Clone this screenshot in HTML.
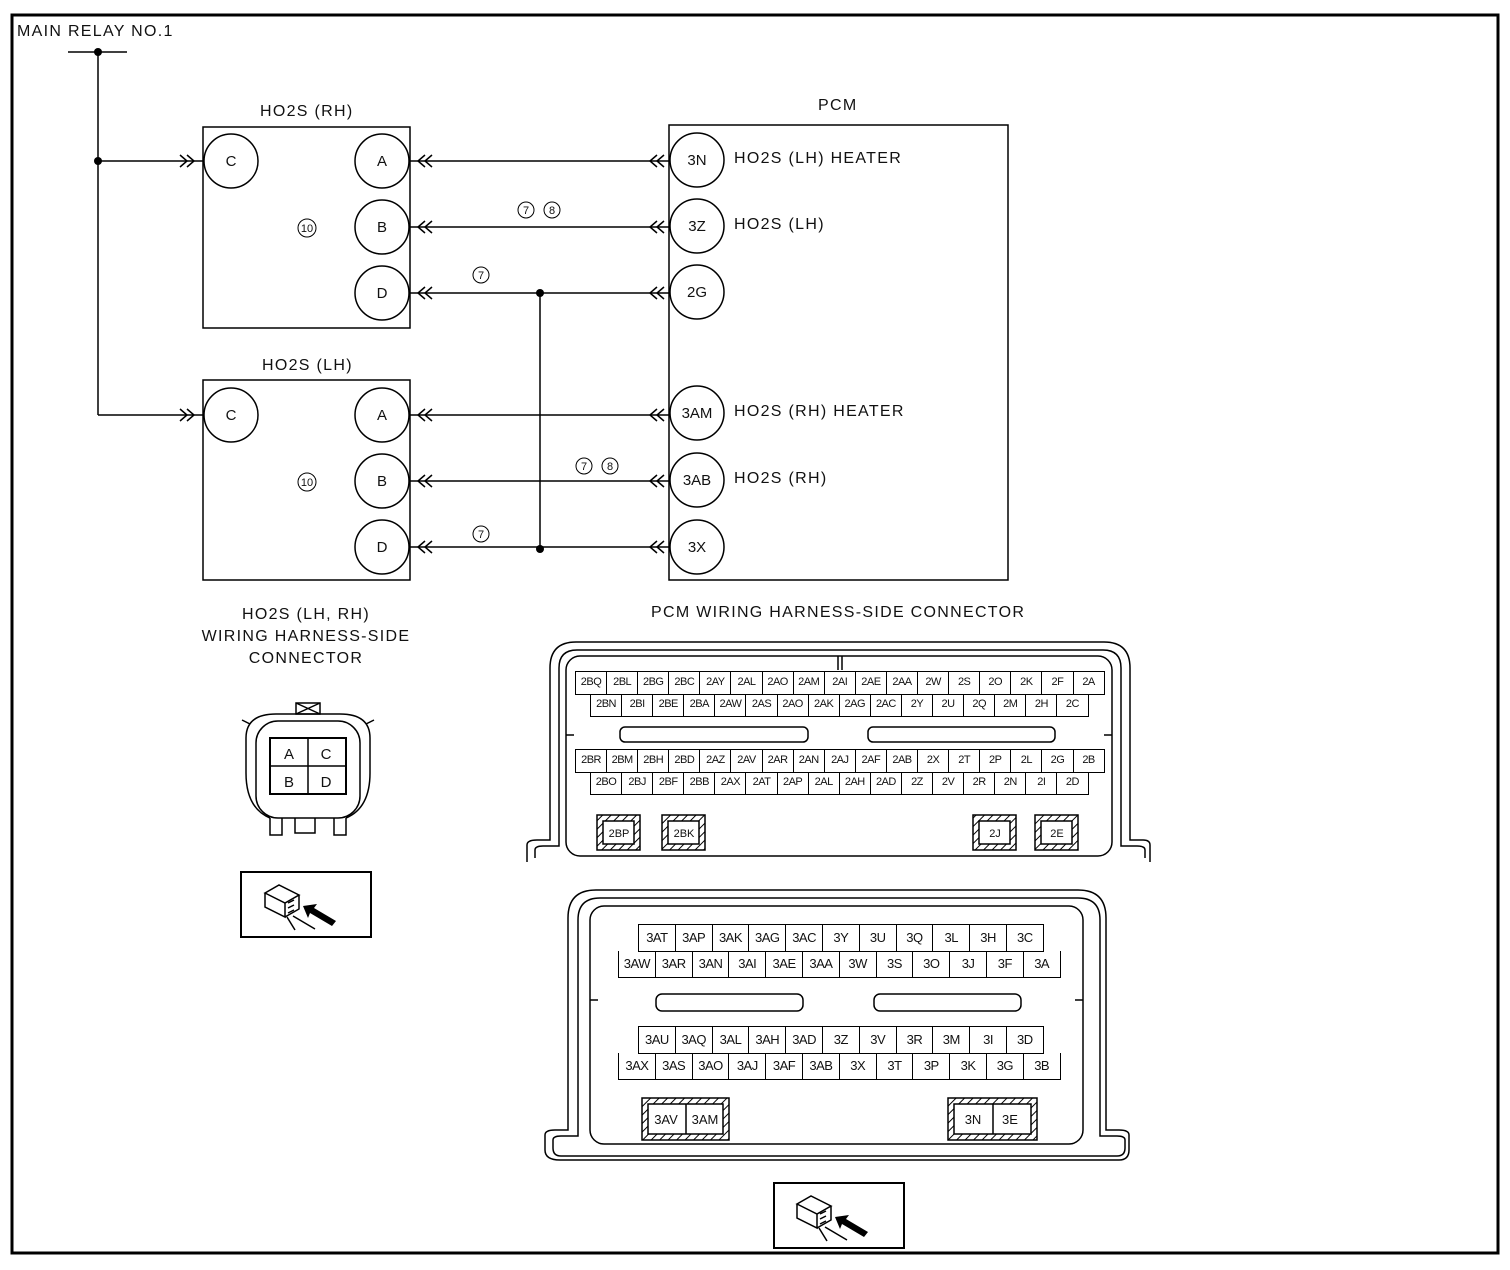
<!DOCTYPE html>
<html><head><meta charset="utf-8"><style>
body{margin:0;background:#fff;}
#w{position:relative;width:1510px;height:1270px;overflow:hidden;font-family:"Liberation Sans",sans-serif;}
svg{position:absolute;left:0;top:0;}
.row{position:absolute;display:flex;border-left:1px solid #000;border-top:1px solid #000;border-bottom:1px solid #000;}
.row div{box-sizing:border-box;border-right:1px solid #000;text-align:center;font-size:11px;color:#111;letter-spacing:-0.5px;overflow:hidden;white-space:nowrap;}
.t div{width:31.1px;height:22px;line-height:21px;}
.b div{width:36.8px;height:26px;line-height:25px;font-size:13px;}
.lb{position:absolute;font-size:16px;letter-spacing:1.3px;color:#111;white-space:nowrap;}
</style></head><body><div id="w">
<svg width="1510" height="1270" viewBox="0 0 1510 1270">
<defs>
<pattern id="h" width="6" height="6" patternUnits="userSpaceOnUse" patternTransform="rotate(45)"><rect width="6" height="6" fill="#fff"/><line x1="0" y1="0" x2="0" y2="6" stroke="#000" stroke-width="2"/></pattern>
</defs>
<rect x="12" y="15" width="1486" height="1238" fill="none" stroke="#000" stroke-width="3"/>
<g stroke="#000" stroke-width="1.5" fill="none">
<line x1="68" y1="52" x2="127" y2="52"/>
<line x1="98" y1="52" x2="98" y2="415"/>
<line x1="98" y1="161" x2="203" y2="161"/>
<line x1="98" y1="415" x2="203" y2="415"/>
<rect x="203" y="127" width="207" height="201"/>
<rect x="203" y="380" width="207" height="200"/>
<rect x="669" y="125" width="339" height="455"/>
<circle cx="231" cy="161" r="27"/><circle cx="382" cy="161" r="27"/><circle cx="382" cy="227" r="27"/><circle cx="382" cy="293" r="27"/>
<circle cx="231" cy="415" r="27"/><circle cx="382" cy="415" r="27"/><circle cx="382" cy="481" r="27"/><circle cx="382" cy="547" r="27"/>
<circle cx="697" cy="160" r="27"/><circle cx="697" cy="226" r="27"/><circle cx="697" cy="292" r="27"/><circle cx="697" cy="413" r="27"/><circle cx="697" cy="480" r="27"/><circle cx="697" cy="547" r="27"/>
<line x1="410" y1="161" x2="669" y2="161"/><line x1="410" y1="227" x2="669" y2="227"/><line x1="410" y1="293" x2="669" y2="293"/>
<line x1="410" y1="415" x2="669" y2="415"/><line x1="410" y1="481" x2="669" y2="481"/><line x1="410" y1="547" x2="669" y2="547"/>
<line x1="540" y1="293" x2="540" y2="549"/>
<path d="M180 155l7 6-7 6M187 155l7 6-7 6"/><path d="M180 409l7 6-7 6M187 409l7 6-7 6"/>
<path d="M425 155l-7 6 7 6M432 155l-7 6 7 6M425 221l-7 6 7 6M432 221l-7 6 7 6M425 287l-7 6 7 6M432 287l-7 6 7 6"/>
<path d="M425 409l-7 6 7 6M432 409l-7 6 7 6M425 475l-7 6 7 6M432 475l-7 6 7 6M425 541l-7 6 7 6M432 541l-7 6 7 6"/>
<path d="M657 155l-7 6 7 6M664 155l-7 6 7 6M657 221l-7 6 7 6M664 221l-7 6 7 6M657 287l-7 6 7 6M664 287l-7 6 7 6"/>
<path d="M657 409l-7 6 7 6M664 409l-7 6 7 6M657 475l-7 6 7 6M664 475l-7 6 7 6M657 541l-7 6 7 6M664 541l-7 6 7 6"/>
<circle cx="526" cy="210" r="8" stroke-width="1"/><circle cx="552" cy="210" r="8" stroke-width="1"/>
<circle cx="481" cy="275" r="8" stroke-width="1"/>
<circle cx="584" cy="466" r="8" stroke-width="1"/><circle cx="610" cy="466" r="8" stroke-width="1"/>
<circle cx="481" cy="534" r="8" stroke-width="1"/>
<circle cx="307" cy="228" r="9" stroke-width="1"/><circle cx="307" cy="482" r="9" stroke-width="1"/>
<path d="M527 862V845q0-5 10-5h13V668q0-26 26-26h528q26 0 26 26v172h13q7 0 7 5v17" stroke-width="1.5"/>
<path d="M535 858V850q0-4 8-4h16V668q0-18 18-18h526q18 0 18 18v178h16q8 0 8 4v8"/>
<rect x="566" y="656" width="546" height="200" rx="14"/>
<line x1="838" y1="656" x2="838" y2="670"/><line x1="842" y1="656" x2="842" y2="670"/>
<rect x="620" y="727" width="188" height="15" rx="5"/><rect x="868" y="727" width="187" height="15" rx="5"/>
<path d="M566 735h8M1104 735h8"/>
<rect x="597" y="815" width="43" height="35" fill="url(#h)"/><rect x="603" y="821" width="31" height="23" fill="#fff"/>
<rect x="662" y="815" width="43" height="35" fill="url(#h)"/><rect x="668" y="821" width="31" height="23" fill="#fff"/>
<rect x="973" y="815" width="43" height="35" fill="url(#h)"/><rect x="979" y="821" width="31" height="23" fill="#fff"/>
<rect x="1035" y="815" width="43" height="35" fill="url(#h)"/><rect x="1041" y="821" width="31" height="23" fill="#fff"/>
<path d="M545 1150V1135q0-5 10-5h13V918q0-28 28-28h482q28 0 28 28v212h13q10 0 10 5v15q0 10-10 10H560q-15 0-15-10z" stroke-width="1.5"/>
<path d="M553 1148V1140q0-4 8-4h17V920q0-22 22-22h478q22 0 22 22v216h17q8 0 8 4v8q0 8-8 8H561q-8 0-8-8z"/>
<rect x="590" y="906" width="493" height="238" rx="14"/>
<rect x="656" y="994" width="147" height="17" rx="6"/><rect x="874" y="994" width="147" height="17" rx="6"/>
<path d="M590 1000h8M1075 1000h8"/>
<rect x="642" y="1098" width="87" height="42" fill="url(#h)"/><rect x="648" y="1104" width="75" height="30" fill="#fff"/><line x1="686" y1="1104" x2="686" y2="1134"/>
<rect x="948" y="1098" width="89" height="42" fill="url(#h)"/><rect x="954" y="1104" width="77" height="30" fill="#fff"/><line x1="993" y1="1104" x2="993" y2="1134"/>
<!-- HO2S connector -->
<rect x="296" y="703" width="24" height="11"/><path d="M296 703l24 11M320 703l-24 11"/>
<path d="M250 724l-8-4M366 724l8-4"/>
<path d="M270 818q-24-10-24-45v-35q0-24 30-24h64q30 0 30 24v35q0 35-24 45"/>
<rect x="256" y="721" width="104" height="97" rx="22"/>
<path d="M270 818v17h12v-17M295 818v15h20v-15M334 818v17h12v-17"/>
<rect x="270" y="738" width="76" height="56" stroke-width="2"/><line x1="308" y1="738" x2="308" y2="794"/><line x1="270" y1="766" x2="346" y2="766"/>
<rect x="241" y="872" width="130" height="65" stroke-width="2"/>
<rect x="774" y="1183" width="130" height="65" stroke-width="2"/>
<g id="ic"><path d="M265 893l14-8 20 10-14 8zM265 893v14l20 10v-14M285 917l14-8v-14"/><path d="M288 903l6-3M288 908l6-3M288 913l6-3M287 917l8 13M293 916l22 13"/></g>
<path transform="translate(532 311)" d="M265 893l14-8 20 10-14 8zM265 893v14l20 10v-14M285 917l14-8v-14M288 903l6-3M288 908l6-3M288 913l6-3M287 917l8 13M293 916l22 13"/>
</g>
<g fill="#000">
<path d="M303 906l14-2-3 4 22 13-4 5-22-13-2 5z"/>
<path transform="translate(532 311)" d="M303 906l14-2-3 4 22 13-4 5-22-13-2 5z"/>
<circle cx="98" cy="52" r="4"/><circle cx="98" cy="161" r="4"/><circle cx="540" cy="293" r="4"/><circle cx="540" cy="549" r="4"/></g>
<g font-family="Liberation Sans" font-size="15" fill="#111" text-anchor="middle">
<text x="231" y="166">C</text><text x="382" y="166">A</text><text x="382" y="232">B</text><text x="382" y="298">D</text>
<text x="231" y="420">C</text><text x="382" y="420">A</text><text x="382" y="486">B</text><text x="382" y="552">D</text>
<text x="697" y="165">3N</text><text x="697" y="231">3Z</text><text x="697" y="297">2G</text><text x="697" y="418">3AM</text><text x="697" y="485">3AB</text><text x="697" y="552">3X</text>
<text x="289" y="759">A</text><text x="326" y="759">C</text><text x="289" y="787">B</text><text x="326" y="787">D</text>
<g font-size="11"><text x="526" y="214">7</text><text x="552" y="214">8</text><text x="481" y="279">7</text><text x="584" y="470">7</text><text x="610" y="470">8</text><text x="481" y="538">7</text><text x="307" y="232">10</text><text x="307" y="486">10</text>
<text x="619" y="837">2BP</text><text x="684" y="837">2BK</text><text x="995" y="837">2J</text><text x="1057" y="837">2E</text></g>
<g font-size="13"><text x="666" y="1124">3AV</text><text x="705" y="1124">3AM</text><text x="973" y="1124">3N</text><text x="1010" y="1124">3E</text></g>
</g>
</svg>
<div class="lb" style="left:17px;top:23px;">MAIN RELAY NO.1</div>
<div class="lb" style="left:260px;top:103px;">HO2S (RH)</div>
<div class="lb" style="left:262px;top:357px;">HO2S (LH)</div>
<div class="lb" style="left:818px;top:97px;">PCM</div>
<div class="lb" style="left:734px;top:150px;">HO2S (LH) HEATER</div>
<div class="lb" style="left:734px;top:216px;">HO2S (LH)</div>
<div class="lb" style="left:734px;top:403px;">HO2S (RH) HEATER</div>
<div class="lb" style="left:734px;top:470px;">HO2S (RH)</div>
<div class="lb" style="left:190px;top:604px;width:232px;text-align:center;line-height:22px;">HO2S (LH, RH)<br>WIRING HARNESS-SIDE<br>CONNECTOR</div>
<div class="lb" style="left:651px;top:604px;">PCM WIRING HARNESS-SIDE CONNECTOR</div>

<div class="row t" style="left:575px;top:671px;"><div>2BQ</div><div>2BL</div><div>2BG</div><div>2BC</div><div>2AY</div><div>2AL</div><div>2AO</div><div>2AM</div><div>2AI</div><div>2AE</div><div>2AA</div><div>2W</div><div>2S</div><div>2O</div><div>2K</div><div>2F</div><div>2A</div></div>
<div class="row t" style="left:590px;top:694px;border-top:none;"><div>2BN</div><div>2BI</div><div>2BE</div><div>2BA</div><div>2AW</div><div>2AS</div><div>2AO</div><div>2AK</div><div>2AG</div><div>2AC</div><div>2Y</div><div>2U</div><div>2Q</div><div>2M</div><div>2H</div><div>2C</div></div>
<div class="row t" style="left:575px;top:749px;"><div>2BR</div><div>2BM</div><div>2BH</div><div>2BD</div><div>2AZ</div><div>2AV</div><div>2AR</div><div>2AN</div><div>2AJ</div><div>2AF</div><div>2AB</div><div>2X</div><div>2T</div><div>2P</div><div>2L</div><div>2G</div><div>2B</div></div>
<div class="row t" style="left:590px;top:772px;border-top:none;"><div>2BO</div><div>2BJ</div><div>2BF</div><div>2BB</div><div>2AX</div><div>2AT</div><div>2AP</div><div>2AL</div><div>2AH</div><div>2AD</div><div>2Z</div><div>2V</div><div>2R</div><div>2N</div><div>2I</div><div>2D</div></div>

<div class="row b" style="left:638px;top:924px;"><div>3AT</div><div>3AP</div><div>3AK</div><div>3AG</div><div>3AC</div><div>3Y</div><div>3U</div><div>3Q</div><div>3L</div><div>3H</div><div>3C</div></div>
<div class="row b" style="left:618px;top:951px;border-top:none;"><div>3AW</div><div>3AR</div><div>3AN</div><div>3AI</div><div>3AE</div><div>3AA</div><div>3W</div><div>3S</div><div>3O</div><div>3J</div><div>3F</div><div>3A</div></div>
<div class="row b" style="left:638px;top:1026px;"><div>3AU</div><div>3AQ</div><div>3AL</div><div>3AH</div><div>3AD</div><div>3Z</div><div>3V</div><div>3R</div><div>3M</div><div>3I</div><div>3D</div></div>
<div class="row b" style="left:618px;top:1053px;border-top:none;"><div>3AX</div><div>3AS</div><div>3AO</div><div>3AJ</div><div>3AF</div><div>3AB</div><div>3X</div><div>3T</div><div>3P</div><div>3K</div><div>3G</div><div>3B</div></div>
</div></body></html>
